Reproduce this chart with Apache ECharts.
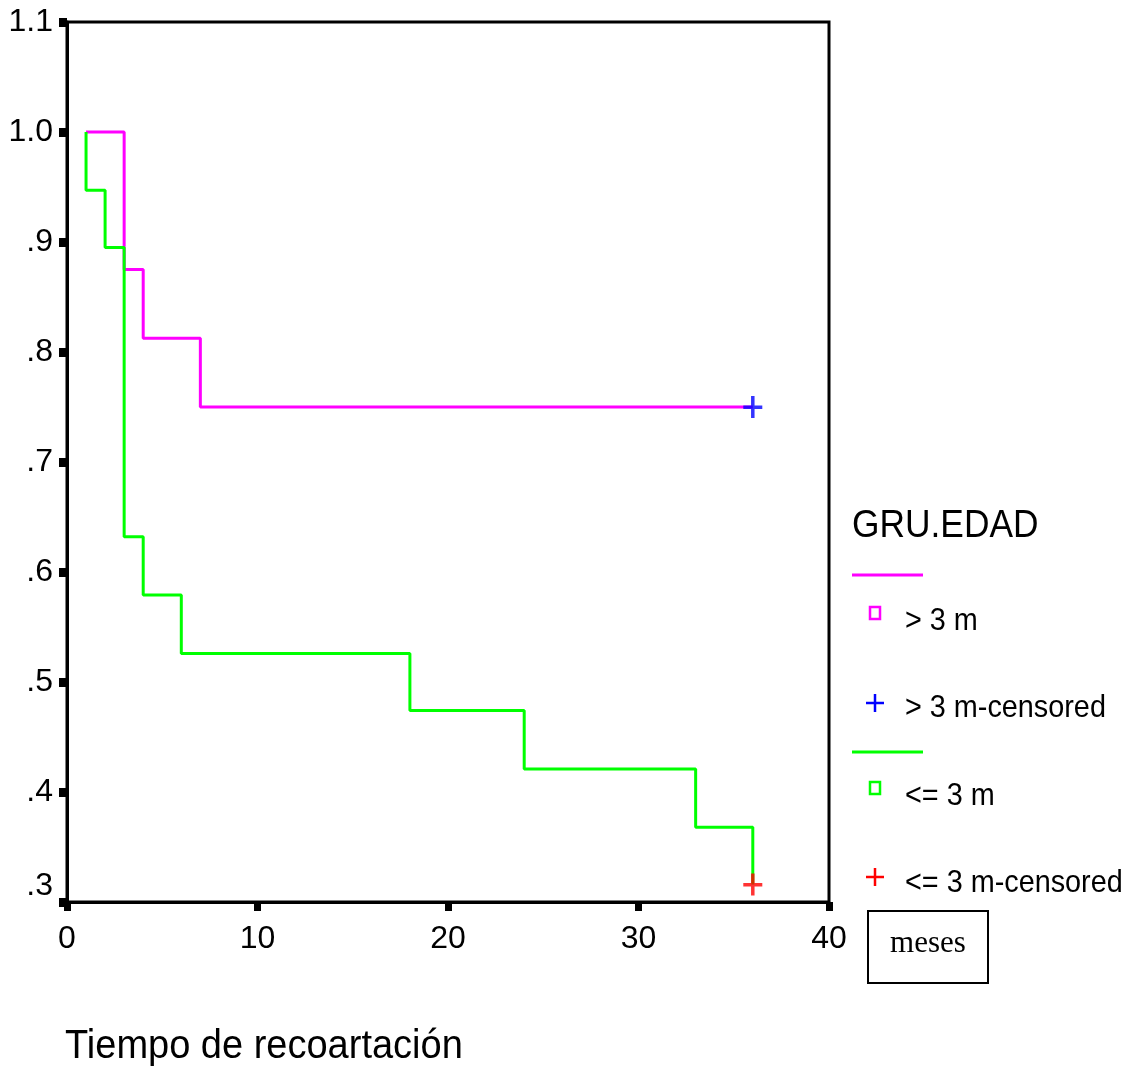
<!DOCTYPE html>
<html lang="es">
<head>
    <meta charset="UTF-8">
    <title>Supervivencia por GRU.EDAD</title>
    <script src="https://cdn.jsdelivr.net/npm/echarts@6/dist/echarts.min.js"></script>
    <style>
        html, body { margin: 0; padding: 0; background: #fff; }
        #main { width: 1127px; height: 1069px; }
    </style>
</head>
<body>
<div id="main"></div>
<script type="text/javascript">
    // datos (Kaplan-Meier)
    var tiempoMayor3 = [1, 3, 4, 7, 36];
    var survMayor3 = [1.0, 0.875, 0.8125, 0.75, 0.75];
    var tiempoMenor3 = [1, 1, 2, 3, 4, 6, 18, 24, 33, 36];
    var survMenor3 = [1.0, 0.947, 0.895, 0.632, 0.579, 0.526, 0.474, 0.421, 0.368, 0.316];
    var censMayor3 = [[36, 0.75]];
    var censMenor3 = [[36, 0.316]];
    var yTicks = [0.3, 0.4, 0.5, 0.6, 0.7, 0.8, 0.9, 1.0, 1.1];
    var yTickLabels = ['.3', '.4', '.5', '.6', '.7', '.8', '.9', '1.0', '1.1'];
    var xTickLabels = ['0', '10', '20', '30', '40'];

    var FONT = '"Liberation Sans", Arial, sans-serif';
    var PLUS = 'path://M7.75,0H11.25V9.5H19V13H11.25V22H7.75V13H0V9.5H7.75Z';

    function pares(xs, ys) {
        var out = [];
        for (var i = 0; i < xs.length; i++) out.push([xs[i], ys[i]]);
        return out;
    }

    function yLabel(v) {
        for (var i = 0; i < yTicks.length; i++) {
            if (Math.abs(yTicks[i] - v) < 1e-6) {
                // la primera etiqueta va un poco mas arriba
                return i === 0 ? '{up|' + yTickLabels[i] + '}' : yTickLabels[i];
            }
        }
        return '';
    }

    // texto estrecho (la fuente original es condensada)
    function texto(x, y, s, size, sx) {
        return {
            type: 'text', x: x, y: y, scaleX: sx, scaleY: 1,
            style: { x: 0, y: 0, text: s, fill: '#000', font: size + 'px ' + FONT, textVerticalAlign: 'middle' }
        };
    }

    var myChart = echarts.init(document.getElementById('main'));

    var option = {
        backgroundColor: '#ffffff',
        animation: false,
        grid: {
            left: 67, top: 22, width: 762, height: 880,
            show: true, borderColor: '#000', borderWidth: 3, backgroundColor: 'transparent'
        },
        xAxis: {
            type: 'value', min: 0, max: 40, interval: 10,
            axisLine: { show: true, lineStyle: { color: '#000', width: 3 } },
            axisTick: { show: true, length: 9, lineStyle: { color: '#000', width: 7 } },
            axisLabel: {
                color: '#000', fontFamily: FONT, fontSize: 32, margin: 21,
                formatter: function (v) { return xTickLabels[Math.round(v / 10)]; }
            },
            splitLine: { show: false }
        },
        yAxis: {
            type: 'value', min: 0.3, max: 1.1, interval: 0.1,
            axisLine: { show: true, lineStyle: { color: '#000', width: 3 } },
            axisTick: { show: true, length: 8, lineStyle: { color: '#000', width: 9 } },
            axisLabel: {
                color: '#000', fontFamily: FONT, fontSize: 32, margin: 14,
                formatter: yLabel,
                rich: {
                    up: { fontFamily: FONT, fontSize: 32, color: '#000', padding: [0, 0, 32, 0] }
                }
            },
            splitLine: { show: false }
        },
        series: [
            {
                name: '> 3 m', type: 'line', step: 'end',
                data: pares(tiempoMayor3, survMayor3),
                showSymbol: false, symbol: 'none',
                lineStyle: { color: '#ff00ff', width: 3 }, z: 2
            },
            {
                name: '<= 3 m', type: 'line', step: 'end',
                data: pares(tiempoMenor3, survMenor3),
                showSymbol: false, symbol: 'none',
                lineStyle: { color: '#00ff00', width: 3 }, z: 3
            },
            {
                name: '> 3 m-censored', type: 'scatter', data: censMayor3,
                symbol: PLUS, symbolSize: [19, 22], symbolKeepAspect: false,
                itemStyle: { color: '#0000ff' }, z: 4
            },
            {
                name: '<= 3 m-censored', type: 'scatter', data: censMenor3,
                symbol: PLUS, symbolSize: [19, 22], symbolKeepAspect: false,
                itemStyle: { color: '#ff0000' }, z: 4
            }
        ],
        graphic: [
            texto(852, 527, 'GRU.EDAD', 38, 0.93),
            { type: 'line', shape: { x1: 852, y1: 575, x2: 923, y2: 575 }, style: { stroke: '#ff00ff', lineWidth: 3 } },
            { type: 'rect', shape: { x: 870, y: 607, width: 10, height: 12 }, style: { fill: 'none', stroke: '#ff00ff', lineWidth: 2.5 } },
            texto(905, 621, '> 3 m', 32, 0.9),
            { type: 'line', shape: { x1: 866, y1: 703, x2: 884, y2: 703 }, style: { stroke: '#0000ff', lineWidth: 2.5 } },
            { type: 'line', shape: { x1: 875, y1: 694, x2: 875, y2: 712 }, style: { stroke: '#0000ff', lineWidth: 2.5 } },
            texto(905, 708, '> 3 m-censored', 32, 0.9),
            { type: 'line', shape: { x1: 852, y1: 752, x2: 923, y2: 752 }, style: { stroke: '#00ff00', lineWidth: 3 } },
            { type: 'rect', shape: { x: 870, y: 782, width: 10, height: 12 }, style: { fill: 'none', stroke: '#00ff00', lineWidth: 2.5 } },
            texto(905, 796, '<= 3 m', 32, 0.9),
            { type: 'line', shape: { x1: 866, y1: 877, x2: 884, y2: 877 }, style: { stroke: '#ff0000', lineWidth: 2.5 } },
            { type: 'line', shape: { x1: 875, y1: 868, x2: 875, y2: 886 }, style: { stroke: '#ff0000', lineWidth: 2.5 } },
            texto(905, 883, '<= 3 m-censored', 32, 0.9),
            { type: 'rect', shape: { x: 868, y: 911, width: 120, height: 72 }, style: { fill: '#fff', stroke: '#000', lineWidth: 2 } },
            { type: 'text', x: 928, y: 944, style: { text: 'meses', fill: '#000', font: '31px "Liberation Serif", "Times New Roman", serif', textAlign: 'center', textVerticalAlign: 'middle' } },
            texto(65, 1047, 'Tiempo de recoartación', 40, 0.95)
        ]
    };

    myChart.setOption(option);
</script>
</body>
</html>
